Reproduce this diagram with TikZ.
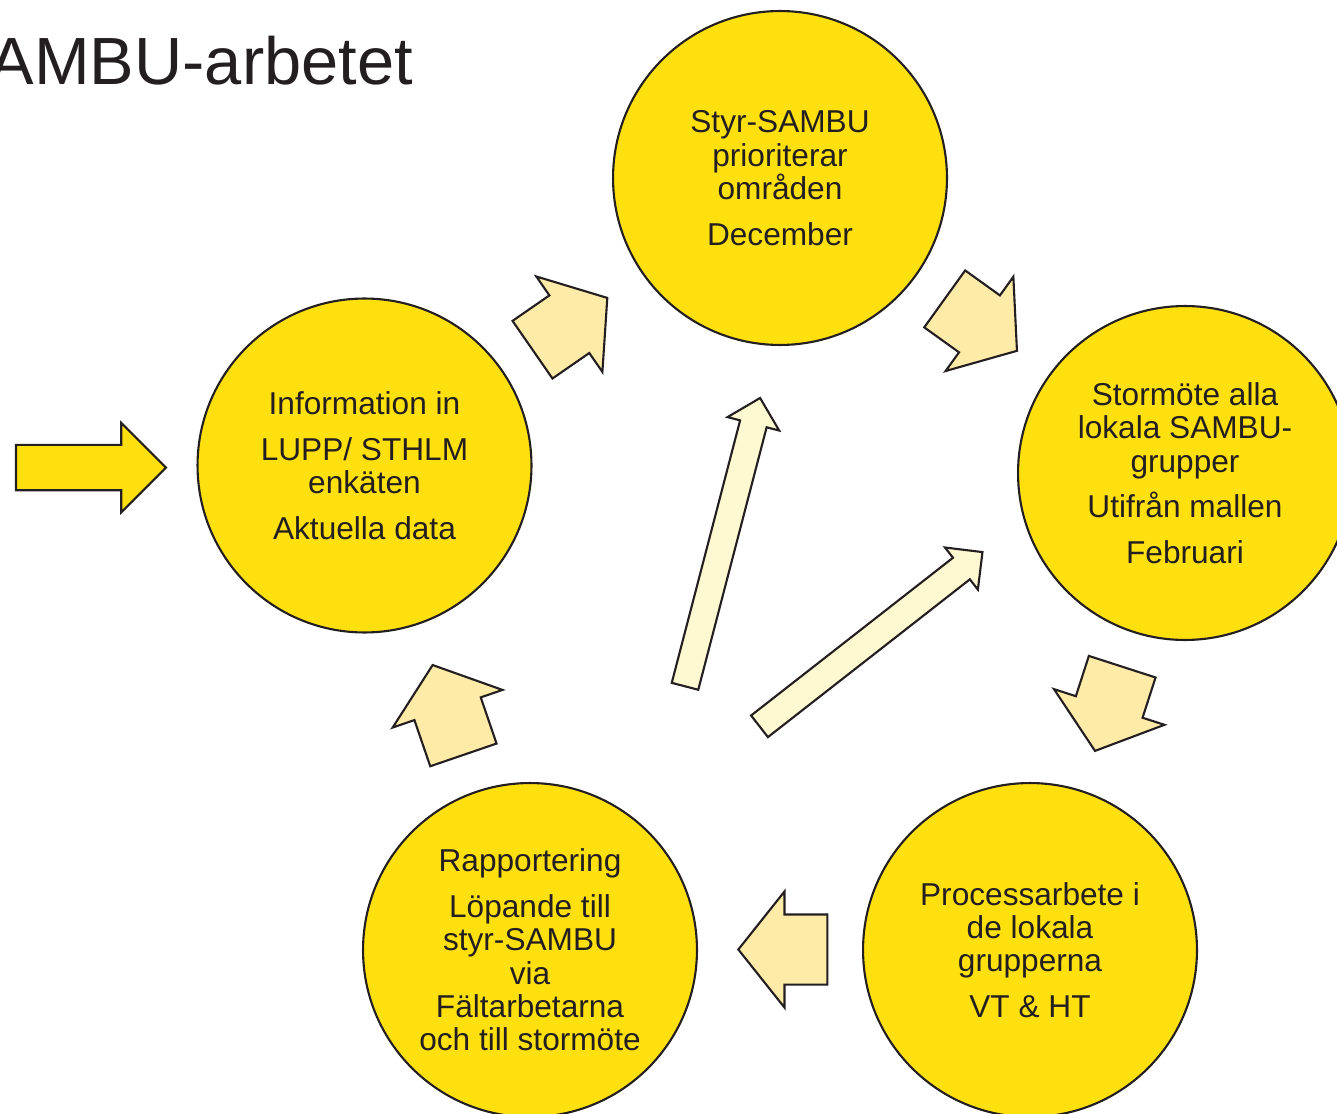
\documentclass[tikz,border=0pt]{standalone}
\usepackage{fontspec}
\setmainfont{Liberation Sans}
\usepackage{tikz}
\usetikzlibrary{shapes.arrows}
\definecolor{stageyellow}{RGB}{255, 224, 15}
\definecolor{arrowyellow}{RGB}{255, 235, 168}
\definecolor{paleyellow}{RGB}{255, 249, 210}
\definecolor{inkgray}{RGB}{35, 31, 32}

\begin{document}
\begin{tikzpicture}[
    x=0.02cm, y=-0.02cm,
    stage/.style={circle, draw=inkgray, line width=1.2pt, fill=stageyellow, minimum size=6.68cm, inner sep=0pt, align=center, text=inkgray, font=\fontsize{18}{19}\selectfont},
    blockarrow/.style={single arrow, draw=inkgray, line width=1.2pt, fill=arrowyellow, anchor=tail, outer sep=0pt, inner xsep=0pt, inner ysep=0.68cm, single arrow head extend=0.46cm, single arrow tip angle=103},
    thinarrow/.style={single arrow, draw=inkgray, line width=1.2pt, fill=paleyellow, anchor=tail, outer sep=0pt, inner xsep=0pt, inner ysep=0.253cm, single arrow head extend=0.26cm, single arrow tip angle=90}
]

\useasboundingbox (0,0) rectangle (1337,1114);

\node[anchor=base east, text=inkgray, font=\fontsize{38}{45}\selectfont] (title) at (419,85) {SAMBU-arbetet};

\node[stage] (info) at (364.5,465.5) {Information in\\[7pt]LUPP/ STHLM\\enkäten\\[7pt]Aktuella data};

\node[stage] (styr) at (780,178) {Styr-SAMBU\\prioriterar\\områden\\[7pt]December};

\node[stage] (stor) at (1185,473) {Stormöte alla\\lokala SAMBU-\\grupper\\[7pt]Utifrån mallen\\[7pt]Februari};

\node[stage] (process) at (1030,950) {Processarbete i\\de lokala\\grupperna\\[7pt]VT \& HT};

\node[stage] (rapport) at (530,950) {Rapportering\\[7pt]Löpande till\\styr-SAMBU\\via\\Fältarbetarna\\och till stormöte};

\node[blockarrow, fill=stageyellow, inner ysep=0.433cm, single arrow head extend=0.44cm, single arrow tip angle=90, minimum height=3cm] (input) at (16,467.6) {};

\node[blockarrow, rotate=34.7, minimum height=1.82cm] (infostyr) at (532.5,349.7) {};
\node[blockarrow, rotate=-35.7, minimum height=1.78cm] (styrstor) at (944.7,298.9) {};
\node[blockarrow, rotate=-107.9, minimum height=1.77cm] (storprocess) at (1122.2,666.7) {};
\node[blockarrow, rotate=180, minimum height=1.78cm] (processrapport) at (827.3,949.5) {};
\node[blockarrow, rotate=108.9, minimum height=1.9cm] (rapportinfo) at (463.4,754.9) {};

\node[thinarrow, rotate=75.4, minimum height=5.96cm] (backstyr) at (685,686.3) {};
\node[thinarrow, rotate=38, minimum height=5.66cm] (backstor) at (759.5,726.3) {};

\end{tikzpicture}
\end{document}
